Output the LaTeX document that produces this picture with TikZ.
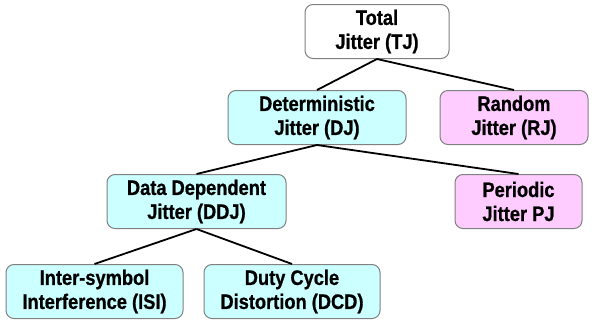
\documentclass[tikz,border=0pt]{standalone}
\usepackage{fontspec}
\setmainfont{Liberation Sans}[FakeStretch=0.87,BoldFeatures={FakeBold=0.8}]
\usetikzlibrary{arrows,arrows.meta}
\definecolor{detfill}{HTML}{CCFFFF}
\definecolor{rndfill}{HTML}{FFCCFF}
\definecolor{boxline}{HTML}{808080}

\begin{document}
\begin{tikzpicture}[x=1pt,y=-1pt,
box/.style={draw=boxline,line width=1pt,rounded corners=8pt,align=center,font=\fontsize{21}{24}\selectfont\bfseries,minimum height=54pt,inner sep=2pt},
det/.style={box,fill=detfill},
rnd/.style={box,fill=rndfill},
link/.style={line width=1.8pt}]

\useasboundingbox (0,0) rectangle (594,324);

\node[box,minimum width=144pt](tj) at (377,31.5) {Total\\Jitter (TJ)};

\node[det,minimum width=178pt](dj) at (317,117.5) {Deterministic\\Jitter (DJ)};

\node[rnd,minimum width=148pt](rj) at (514,117.5) {Random\\Jitter (RJ)};

\node[det,minimum width=179pt](ddj) at (196.5,201.5) {Data Dependent\\Jitter (DDJ)};

\node[rnd,minimum width=127pt](pj) at (518.5,201.5) {Periodic\\Jitter PJ};

\node[det,minimum width=177pt](isi) at (94.5,291.5) {Inter-symbol\\Interference (ISI)};

\node[det,minimum width=176pt](dcd) at (292,291.5) {Duty Cycle\\Distortion (DCD)};

\draw[link] (tj.south) -- (dj.north);

\draw[link] (tj.south) -- (rj.north);

\draw[link] (dj.south) -- (ddj.north);

\draw[link] (dj.south) -- (pj.north);

\draw[link] (ddj.south) -- (isi.north);

\draw[link] (ddj.south) -- (dcd.north);

\end{tikzpicture}
\end{document}
